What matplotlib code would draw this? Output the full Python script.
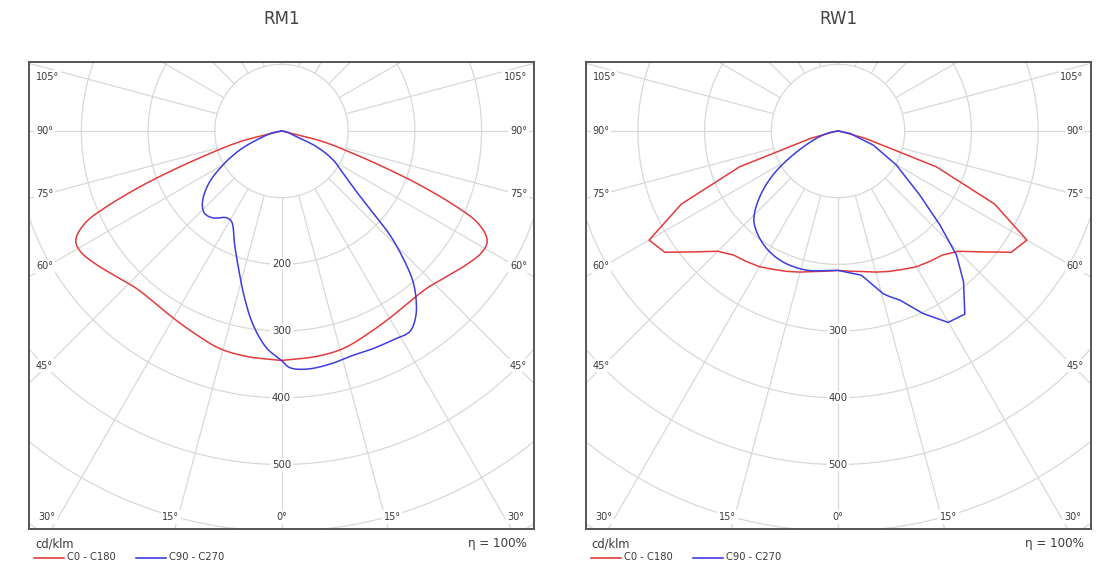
import numpy as np
import matplotlib
matplotlib.use("Agg")
import matplotlib.pyplot as plt

# ---------------- data (gamma in degrees from nadir, intensity in cd/klm) ----------------
titles = ["RM1", "RW1"]

# RM1, C0 - C180 (symmetric, one half given)
rm1_red_gamma = [0, 8.8, 15.9, 22.6, 30.1, 37.0, 42.7, 48.6, 54.1, 58.6, 61.4, 63.0, 65.1, 66.6, 68.5, 70.2, 72.3, 75.6, 90]
rm1_red_cd    = [344, 342, 339, 331, 324, 320, 321, 330, 342, 351, 351, 344, 322, 286, 228, 173, 118, 64, 0]

# RM1, C90 - C270 (left half / right half)
rm1_blue_left_gamma = [0, 3.95, 8.3, 12.4, 16.8, 22.3, 28.9, 32.4, 38.3, 43.0, 47.5, 53.7, 59.3, 65.5, 71.4, 80, 90]
rm1_blue_left_cd    = [344, 326, 294, 257, 220, 185, 155, 154, 166, 169, 161, 137, 105, 69, 34, 12, 0]
rm1_blue_right_gamma = [0, 2.0, 6.0, 11.7, 17.7, 22.9, 28.1, 32.6, 35.6, 38.3, 41.1, 43.7, 46.2, 48.1, 51.0, 55.5, 60.7, 65.8, 69.2, 80, 90]
rm1_blue_right_cd    = [344, 355, 359, 357, 353, 354, 355, 357, 345, 326, 300, 264, 225, 185, 145, 112, 89, 58, 24, 8, 0]

# RW1, C0 - C180 (symmetric, one half given)
rw1_red_gamma = [0, 5, 10, 15, 20, 25, 30, 35, 40, 45, 50, 55, 60, 65, 70, 75, 80, 90]
rw1_red_cd    = [209, 211, 214, 219, 224, 229, 235, 239, 243, 255, 282, 317, 327, 259, 157, 42, 5, 0]

# RW1, C90 - C270 (left half / right half)
rw1_blue_left_gamma = [0, 4.75, 12.8, 22.8, 31.4, 39.0, 43.9, 50.0, 55.9, 61.9, 71.3, 80, 90]
rw1_blue_left_cd    = [209, 210, 214, 213, 206, 194, 182, 153, 118, 77, 34, 12, 0]
rw1_blue_right_gamma = [0, 9.2, 12.8, 15.5, 17.3, 20.1, 25.0, 29.9, 34.7, 39.8, 43.7, 47.3, 51.9, 59.8, 68.2, 78.9, 90]
rw1_blue_right_cd    = [209, 219, 237, 253, 260, 270, 302, 331, 334, 294, 257, 208, 156, 101, 57, 18, 0]

ring_values = [100, 200, 300, 400, 500, 600, 700, 800]
ring_labels_rm1 = [200, 300, 400, 500]
ring_labels_rw1 = [300, 400, 500]
side_angle_labels = [105, 90, 75, 60, 45]
bottom_angle_labels = [30, 15, 0, 15, 30]
bottom_angle_signs = [-1, -1, 0, 1, 1]
legend_names = ["C0 - C180", "C90 - C270"]
unit_text = "cd/klm"
eta_text = "\u03b7 = 100%"

RED = "#e33b3b"
BLUE = "#3c3ce0"
GRID = "#d8d8d8"
TXT = "#3a3a3a"

# ---------------- geometry ----------------
W, H = 1100, 567
fig = plt.figure(figsize=(W / 100, H / 100), dpi=100)
PX = 0.667                   # pixels per cd/klm
box_w, box_h = 505, 467
left_px = [29, 585.5]
top_px = 62
center_dy_px = 69            # centre below top edge
half_w = box_w / 2 / PX
y_top = center_dy_px / PX
y_bot = -(box_h - center_dy_px) / PX


def half_xy(gamma, cd, side):
    g = np.radians(np.asarray(gamma, float))
    r = np.asarray(cd, float)
    return side * r * np.sin(g), -r * np.cos(g)


def smooth(x, y, n=10):
    """Centripetal Catmull-Rom through the given points."""
    P = np.column_stack([x, y])
    P = np.vstack([2 * P[0] - P[1], P, 2 * P[-1] - P[-2]])
    out = []
    for i in range(1, len(P) - 2):
        p0, p1, p2, p3 = P[i - 1], P[i], P[i + 1], P[i + 2]

        def tj(ti, a, b):
            return ti + max(np.hypot(*(b - a)), 1e-6) ** 0.5
        t0 = 0.0
        t1 = tj(t0, p0, p1)
        t2 = tj(t1, p1, p2)
        t3 = tj(t2, p2, p3)
        t = np.linspace(t1, t2, n, endpoint=False)[:, None]
        A1 = (t1 - t) / (t1 - t0) * p0 + (t - t0) / (t1 - t0) * p1
        A2 = (t2 - t) / (t2 - t1) * p1 + (t - t1) / (t2 - t1) * p2
        A3 = (t3 - t) / (t3 - t2) * p2 + (t - t2) / (t3 - t2) * p3
        B1 = (t2 - t) / (t2 - t0) * A1 + (t - t0) / (t2 - t0) * A2
        B2 = (t3 - t) / (t3 - t1) * A2 + (t - t1) / (t3 - t1) * A3
        out.append((t2 - t) / (t2 - t1) * B1 + (t - t1) / (t2 - t1) * B2)
    out.append(P[-2][None, :])
    C = np.vstack(out)
    return C[:, 0], C[:, 1]


def curve(ax, lg, lc, rg, rc, color, smooth_left, smooth_right):
    xl, yl = half_xy(lg, lc, -1)
    xr, yr = half_xy(rg, rc, 1)
    if smooth_left:
        xl, yl = smooth(xl, yl)
    if smooth_right:
        xr, yr = smooth(xr, yr)
    x = np.concatenate([xl[::-1], xr])
    y = np.concatenate([yl[::-1], yr])
    ax.plot(x, y, color=color, lw=1.1, zorder=5, solid_joinstyle="round")


def panel(i, title, red_g, red_c, bl_g, bl_c, br_g, br_c, ring_lbls, sm):
    x0 = left_px[i] / W
    y0 = (H - top_px - box_h) / H
    ax = fig.add_axes([x0, y0, box_w / W, box_h / H])
    ax.set_xlim(-half_w, half_w)
    ax.set_ylim(y_bot, y_top)
    ax.set_xticks([])
    ax.set_yticks([])
    for sp in ax.spines.values():
        sp.set_color("#555555")
        sp.set_linewidth(1.4)
        sp.set_zorder(10)

    # rings
    t = np.linspace(0, 2 * np.pi, 721)
    for r in ring_values:
        ax.plot(r * np.sin(t), r * np.cos(t), color=GRID, lw=0.9, zorder=1)
    # radial lines
    for a in range(0, 360, 15):
        ar = np.radians(a)
        ax.plot([100 * np.sin(ar), 900 * np.sin(ar)], [-100 * np.cos(ar), -900 * np.cos(ar)],
                color=GRID, lw=0.9, zorder=1)

    bb = dict(facecolor="white", edgecolor="none", pad=1.2)
    # ring labels
    for r in ring_lbls:
        ax.text(0, -r, str(r), ha="center", va="center", fontsize=7.3, color=TXT,
                bbox=bb, zorder=3)
    # side angle labels
    xin = half_w - 18 / PX
    ymax = y_top - 15 / PX
    for a in side_angle_labels:
        ar = np.radians(a)
        yy = min(-xin * np.cos(ar) / np.sin(ar), ymax)
        ax.text(-half_w + 7 / PX, yy, f"{a}\u00b0", ha="left", va="center", fontsize=7,
                color=TXT, bbox=bb, zorder=3)
        ax.text(half_w - 7 / PX, yy, f"{a}\u00b0", ha="right", va="center", fontsize=7,
                color=TXT, bbox=bb, zorder=3)
    # bottom angle labels
    yb = y_bot + 12 / PX
    for a, s in zip(bottom_angle_labels, bottom_angle_signs):
        xx = s * min((box_h - center_dy_px + 15) / PX * np.tan(np.radians(a)), xin)
        ax.text(xx, yb, f"{a}\u00b0", ha="center", va="center", fontsize=7,
                color=TXT, bbox=bb, zorder=3)

    # curves
    curve(ax, red_g, red_c, red_g, red_c, RED, sm[0], sm[0])
    curve(ax, bl_g, bl_c, br_g, br_c, BLUE, sm[1], sm[2])

    # title
    cx = (left_px[i] + box_w / 2) / W
    fig.text(cx, 1 - 19 / H, title, ha="center", va="center", fontsize=12,
             color="#444444", family="DejaVu Sans")

    # footer
    lx = left_px[i]
    fig.text((lx + 6) / W, 1 - 544 / H, unit_text, ha="left", va="center", fontsize=8.3, color=TXT)
    fig.text((lx + box_w - 7) / W, 1 - 544 / H, eta_text, ha="right", va="center", fontsize=8.6, color=TXT)
    ly = 1 - 557.5 / H
    fig.add_artist(plt.Line2D([(lx + 5) / W, (lx + 35) / W], [ly, ly], color=RED, lw=1.2))
    fig.text((lx + 38) / W, ly, legend_names[0], ha="left", va="center", fontsize=7.2, color=TXT)
    fig.add_artist(plt.Line2D([(lx + 107) / W, (lx + 137) / W], [ly, ly], color=BLUE, lw=1.2))
    fig.text((lx + 140) / W, ly, legend_names[1], ha="left", va="center", fontsize=7.2, color=TXT)


panel(0, titles[0], rm1_red_gamma, rm1_red_cd, rm1_blue_left_gamma, rm1_blue_left_cd,
      rm1_blue_right_gamma, rm1_blue_right_cd, ring_labels_rm1, (True, True, True))
panel(1, titles[1], rw1_red_gamma, rw1_red_cd, rw1_blue_left_gamma, rw1_blue_left_cd,
      rw1_blue_right_gamma, rw1_blue_right_cd, ring_labels_rw1, (False, True, False))

fig.savefig("out.png", dpi=100, facecolor="white")
